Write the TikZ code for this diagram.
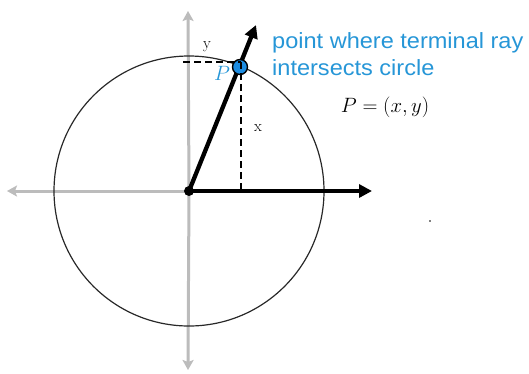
\documentclass[tikz,border=0pt]{standalone}
\usepackage{fontspec}
\newfontfamily\labelfont{Liberation Sans}
\usetikzlibrary{arrows.meta}
\definecolor{axisgray}{RGB}{188,188,188}
\definecolor{ptblue}{RGB}{28,140,225}
\definecolor{txtblue}{RGB}{38,150,215}
\definecolor{circgray}{RGB}{40,40,40}
\begin{document}
\begin{tikzpicture}[x=1pt,y=-1pt,
  axis/.style={draw=axisgray,line width=3pt,arrows={-Stealth[length=10pt,width=11pt,inset=2pt]}},
  ray/.style={draw=black,line width=4.3pt,arrows={-Triangle[length=13pt,width=13pt]}},
  unitcirc/.style={draw=circgray,line width=1.2pt},
  dashline/.style={draw=black,line width=2.2pt,dash pattern=on 7pt off 4pt},
  ptmark/.style={circle,draw=black,line width=1.4pt,fill=ptblue,minimum size=15pt,inner sep=0pt},
  small/.style={font=\fontsize{16}{18}\selectfont,inner sep=0pt},
  bluetext/.style={font=\labelfont\fontsize{22}{26}\selectfont,text=txtblue,inner sep=0pt,anchor=base west}
]
\useasboundingbox (0,0) rectangle (529,373);
\coordinate (O) at (189,191);
\coordinate (ytop) at (188,11);
\coordinate (ybot) at (188,370);
\coordinate (xleft) at (7,191);
\coordinate (xright) at (372,191);
\coordinate (tip) at (256,25);
\coordinate (Pc) at (241,62);
\coordinate (Py) at (183,62);
\coordinate (Px) at (241,191);
% gray axes
\draw[axis] (O) -- (ytop);
\draw[axis] (O) -- (ybot);
\draw[axis] (O) -- (xleft);
% unit circle
\draw[unitcirc] (O) circle[radius=135];
% black positive x-axis and terminal ray
\draw[ray] (O) -- (xright);
\draw[ray] (O) -- (tip);
% point P
\node[ptmark] (P) at (240,67) {};
% dashed projections
\draw[dashline] (Py) -- (Pc);
\draw[dashline] (Pc) -- (Px);
% origin dot
\fill (O) circle[radius=5];
% labels
\node[small] (ylab) at (207,47) {y};
\node[small] (xlab) at (258,128) {x};
\node[inner sep=0pt,text=txtblue,font=\fontsize{22}{24}\selectfont] (Plab) at (222,73) {$P$};
\node[bluetext] (l1) at (272,48) {\scalebox{1.07}[1]{point where terminal ray}};
\node[bluetext] (l2) at (272,75) {\scalebox{1.07}[1]{intersects circle}};
\node[inner sep=0pt,anchor=base,font=\fontsize{21}{23}\selectfont] (eq) at (385,112) {$P=(x,y)$};
\fill (430,221) circle[radius=0.9];
\end{tikzpicture}
\end{document}
